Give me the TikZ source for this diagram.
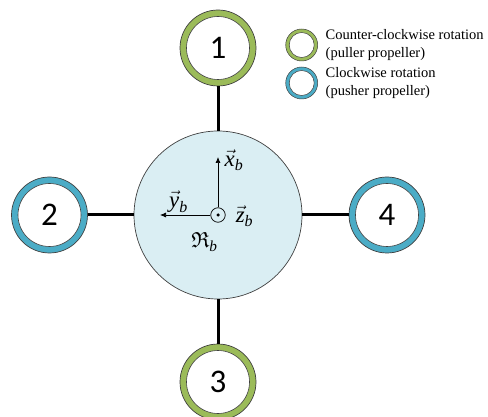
\documentclass[tikz,border=0pt]{standalone}
\usepackage{amsmath,amsfonts}
\usepackage{graphicx}
\usepackage{fontspec}
\setmainfont{Liberation Serif}
\newfontfamily\numfont{Carlito}
\usetikzlibrary{arrows.meta}
\definecolor{rgreen}{HTML}{9BBB59}
\definecolor{rblue}{HTML}{4BACC6}
\definecolor{hubc}{HTML}{DAEEF3}
\definecolor{edgec}{HTML}{404040}
\newcommand{\axlabel}[2]{\scalebox{1.2}{$\vec{\text{\itshape #1}}_{\text{\itshape #2}}$}}
\tikzset{
  rotorg/.style={circle,draw=edgec,line width=0.6pt,fill=white,minimum size=63pt,inner sep=0pt,
    font=\numfont\fontsize{33}{33}\selectfont,text=black},
  ringg/.style={circle,draw=edgec,line width=0.7pt,fill=rgreen,minimum size=76pt,inner sep=0pt},
  ringb/.style={circle,draw=edgec,line width=0.7pt,fill=rblue,minimum size=76pt,inner sep=0pt},
  leggr/.style={circle,draw=edgec,line width=0.5pt,fill=rgreen,minimum size=32pt,inner sep=0pt},
  legbl/.style={circle,draw=edgec,line width=0.5pt,fill=rblue,minimum size=32pt,inner sep=0pt},
  legin/.style={circle,draw=edgec,line width=0.5pt,fill=white,minimum size=25pt,inner sep=0pt},
  shaft/.style={line width=3pt,black},
  axisl/.style={line width=0.7pt,black,-{Latex[length=6pt,width=5pt]}},
  legtxt/.style={anchor=west,align=left,inner sep=0pt,font=\fontsize{14.5}{18}\selectfont},
  symb/.style={inner sep=0pt,font=\fontsize{19}{19}\selectfont}
}
\begin{document}
\begin{tikzpicture}[x=1pt,y=-1pt]
\useasboundingbox (0,0) rectangle (488,417);
% rotors
\node[ringg] (r1) at (218,48) {};
\node[ringb] (r2) at (49.5,215) {};
\node[ringg] (r3) at (218,382) {};
\node[ringb] (r4) at (387,215) {};
% hub
\node[circle,draw=edgec,line width=0.7pt,fill=hubc,minimum size=168pt,inner sep=0pt] (hub) at (218,215) {};
% shafts
\draw[shaft] (hub.north) -- (r1.south);
\draw[shaft] (hub.west) -- (r2.east);
\draw[shaft] (hub.south) -- (r3.north);
\draw[shaft] (hub.east) -- (r4.west);
\node[rotorg] (i1) at (r1) {1};
\node[rotorg] (i2) at (r2) {2};
\node[rotorg] (i3) at (r3) {3};
\node[rotorg] (i4) at (r4) {4};
% axes
\coordinate (xt) at (218,157);
\coordinate (yt) at (160,215);
\node[circle,draw=black,line width=0.7pt,minimum size=14.5pt,inner sep=0pt] (o) at (218,215) {};
\node[circle,fill=black,minimum size=3.5pt,inner sep=0pt] (od) at (218,215) {};
\draw[axisl] (o.north) -- (xt);
\draw[axisl] (o.west) -- (yt);
\node[symb] (lx) at (234,160) {\axlabel{x}{b}};
\node[symb] (ly) at (178.5,202) {\axlabel{y}{b}};
\node[symb] (lz) at (244.5,216) {\axlabel{z}{b}};
\node[symb] (lr) at (204.5,242) {\scalebox{1.15}{$\mathfrak{R}_{\text{\itshape b}}$}};
% legend
\node[leggr] (lg) at (301.7,45) {};
\node[legin] (lgi) at (lg) {};
\node[legbl] (lb) at (301.7,83) {};
\node[legin] (lbi) at (lb) {};
\node[legtxt] (tg) at (325.5,45) {Counter-clockwise rotation\\(puller propeller)};
\node[legtxt] (tb) at (325.5,83) {Clockwise rotation\\(pusher propeller)};
\end{tikzpicture}
\end{document}
